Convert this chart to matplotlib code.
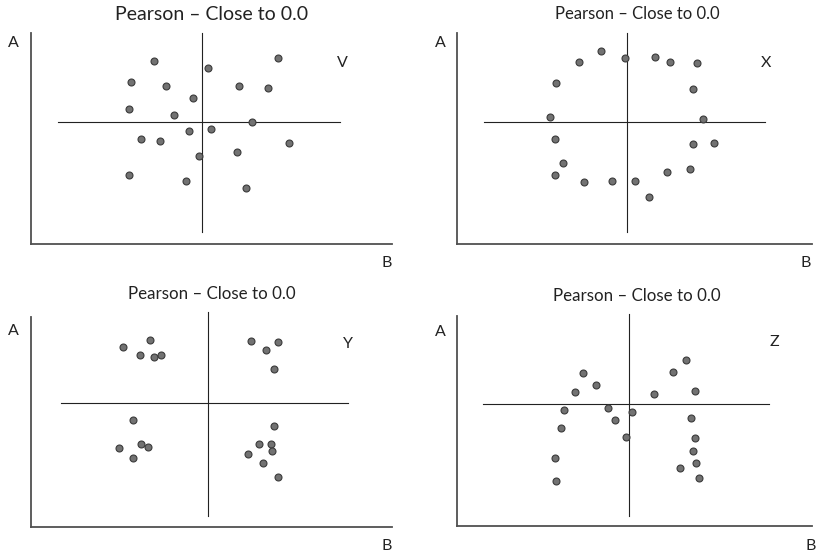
import numpy as np
import matplotlib
matplotlib.use('Agg')
import matplotlib.pyplot as plt

plt.rcParams['font.family'] = ['Lato', 'DejaVu Sans']

title = 'Pearson \u2013 Close to 0.0'
panel_names = ['V', 'X', 'Y', 'Z']

# point offsets from the crosshair (B across, A up)
v_b = [-48, 76, 6, -71, -36, 37, 66, -9, -73, -28, 50, -13, 9, -61, -42, 87, 35, -3, -73, -16, 44]
v_a = [61, 64, 54, 40, 36, 36, 34, 24, 13, 7, 0, -9, -7, -17, -19, -21, -30, -34, -53, -59, -66]

x_b = [-26, -48, -2, 28, 43, 70, -71, 66, -77, 76, -72, 66, 87, -64, 63, 40, -72, -43, -15, 8, 22]
x_a = [71, 60, 64, 65, 60, 59, 39, 33, 5, 3, -17, -22, -21, -41, -47, -50, -53, -60, -59, -59, -75]

y_b = [-58, -85, -68, -54, -47, 43, 70, 58, 66, -75, 66, -89, -67, -60, -75, 51, 63, 64, 40, 55, 70]
y_a = [63, 56, 48, 46, 48, 62, 61, 53, 34, -17, -23, -45, -41, -44, -55, -41, -41, -48, -51, -60, -74]

z_b = [-46, -33, -54, -65, -68, -74, -73, -21, -14, 3, -3, 25, 44, 57, 66, 62, 66, 64, 67, 51, 70]
z_a = [31, 19, 12, -6, -24, -54, -77, -4, -16, -8, -33, 10, 32, 44, 13, -14, -34, -47, -59, -64, -74]

panel_b = [v_b, x_b, y_b, z_b]
panel_a = [v_a, x_a, y_a, z_a]

W, H = 816, 559
fig = plt.figure(figsize=(W / 100, H / 100), dpi=100)

# layout in pixels: axes left/right/top/bottom, crosshair centre, crosshair extents
layout = [
    dict(box=(31, 392, 33, 244), c=(202, 122), v=(33, 232), h=(58, 340),
         t=(212, 14, 14), lab_a=(13, 43), lab_b=(387, 263), lab_n=(342, 63)),
    dict(box=(457, 812, 33, 244), c=(627, 122), v=(33, 232), h=(484, 765),
         t=(637, 14, 12), lab_a=(440, 43), lab_b=(806, 263), lab_n=(766, 63)),
    dict(box=(31, 392, 317, 527), c=(208, 403), v=(312, 516), h=(61, 348),
         t=(212, 294, 12.2), lab_a=(13, 331), lab_b=(387, 546), lab_n=(348, 344)),
    dict(box=(457, 812, 316, 526), c=(629, 404), v=(314, 516), h=(483, 769),
         t=(637, 296, 12.2), lab_a=(440, 332), lab_b=(811, 546), lab_n=(774, 342)),
]

for name, bs, As, L in zip(panel_names, panel_b, panel_a, layout):
    x0, x1, top, bot = L['box']
    cx, cy = L['c']
    ax = fig.add_axes([x0 / W, 1 - bot / H, (x1 - x0) / W, (bot - top) / H])
    ax.set_xlim(x0 - cx, x1 - cx)
    ax.set_ylim(cy - bot, cy - top)
    for s in ['top', 'right']:
        ax.spines[s].set_visible(False)
    for s in ['left', 'bottom']:
        ax.spines[s].set_color('#505050')
        ax.spines[s].set_linewidth(1.3)
    ax.set_xticks([])
    ax.set_yticks([])
    ax.patch.set_alpha(0)

    # crosshair
    ax.plot([0, 0], [cy - L['v'][1], cy - L['v'][0]], color='#222222', lw=0.8, clip_on=False)
    ax.plot([L['h'][0] - cx, L['h'][1] - cx], [0, 0], color='#222222', lw=0.8, clip_on=False)

    ax.scatter(bs, As, s=25, color='#727272', edgecolor='#3a3a3a', linewidth=0.8, zorder=3, clip_on=False)

    tx, ty, tfs = L['t']
    fig.text(tx / W, 1 - ty / H, title, ha='center', va='center', fontsize=tfs, color='#222222')
    fig.text(L['lab_a'][0] / W, 1 - L['lab_a'][1] / H, 'A', ha='center', va='center', fontsize=11.5, color='#222222')
    fig.text(L['lab_b'][0] / W, 1 - L['lab_b'][1] / H, 'B', ha='center', va='center', fontsize=11.5, color='#222222')
    fig.text(L['lab_n'][0] / W, 1 - L['lab_n'][1] / H, name, ha='center', va='center', fontsize=11.5, color='#222222')

fig.savefig('out.png', dpi=100, facecolor='white')
